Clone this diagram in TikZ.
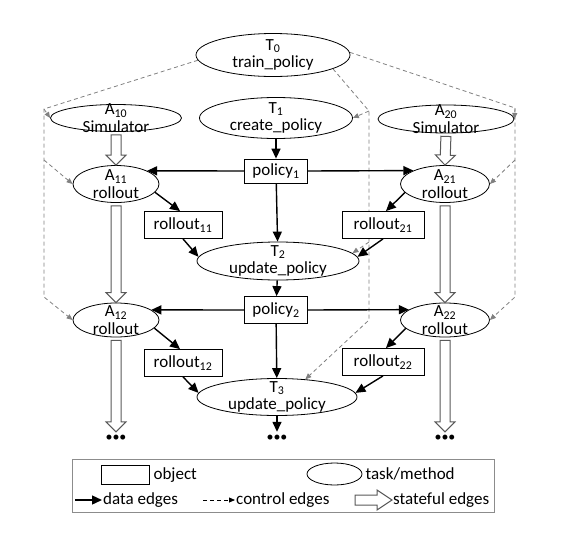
\documentclass[tikz,border=0pt]{standalone}
\usepackage{fontspec}
\setmainfont{Carlito}
\usetikzlibrary{shapes.geometric,arrows.meta,calc}
\pgfdeclarelayer{bg}
\pgfsetlayers{bg,main}

\begin{document}
\begin{tikzpicture}[x=1pt,y=-1pt,
    base/.style={font=\fontsize{17}{17.5}\selectfont},
    obj/.style={base, draw, fill=white, line width=0.8pt, minimum width=#1, minimum height=27pt, inner sep=0pt},
    task/.style 2 args={ellipse, draw, fill=white, line width=0.8pt, minimum width=#1, minimum height=#2, inner sep=0pt},
    txt/.style={base, align=center},
    data/.style={line width=1.4pt, -{Triangle[length=10pt,width=9pt]}},
    ctrl/.style={draw=black!50, line width=0.8pt, dash pattern=on 4pt off 3pt, -{Triangle[length=6pt,width=5pt]}},
    stateful/.style={draw=black!65, fill=white, line width=1pt, to path={
        let \p1=(\tikztostart), \p2=(\tikztotarget), \n1={atan2(\y2-\y1,\x2-\x1)} in
        ($(\p1)+(\n1:3pt)+(\n1+90:5pt)$) -- ($(\p2)+(\n1:-#1)+(\n1+90:5pt)$)
        -- ($(\p2)+(\n1:-#1)+(\n1+90:10pt)$) -- (\p2)
        -- ($(\p2)+(\n1:-#1)+(\n1-90:10pt)$) -- ($(\p2)+(\n1:-#1)+(\n1-90:5pt)$)
        -- ($(\p1)+(\n1:3pt)+(\n1-90:5pt)$) -- cycle}},
    stateful/.default=10pt,
    dots/.style={font=\fontsize{14}{14}\selectfont, inner sep=0pt, minimum height=12pt}]
\useasboundingbox (0,0) rectangle (571,536);

% tasks
\node[task={154pt}{43pt}, label={[txt]center:T\textsubscript{0}\\train\_policy}] (T0) at (273,55) {};
\node[task={153pt}{41pt}, label={[txt]center:T\textsubscript{1}\\create\_policy}] (T1) at (276,118) {};
\node[task={162pt}{38pt}, label={[txt]center:T\textsubscript{2}\\update\_policy}] (T2) at (278,261) {};
\node[task={160pt}{37pt}, label={[txt]center:T\textsubscript{3}\\update\_policy}] (T3) at (277,397) {};
\node[task={131pt}{27pt}, label={[txt]center:A\textsubscript{10}\\Simulator}] (A10) at (116,118) {};
\node[task={136pt}{28pt}, label={[txt]center:A\textsubscript{20}\\Simulator}] (A20) at (446,119) {};
\node[task={86pt}{37pt}, label={[txt]center:A\textsubscript{11}\\rollout}] (A11) at (116,184) {};
\node[task={89pt}{37pt}, label={[txt]center:A\textsubscript{21}\\rollout}] (A21) at (445,184) {};
\node[task={86pt}{34pt}, label={[txt]center:A\textsubscript{12}\\rollout}] (A12) at (116,320) {};
\node[task={89pt}{34pt}, label={[txt]center:A\textsubscript{22}\\rollout}] (A22) at (445,320) {};

% objects
\node[obj=63pt, minimum height=24pt] (p1) at (276,171) {policy\textsubscript{1}};
\node[obj=63pt] (p2) at (276,310) {policy\textsubscript{2}};
\node[obj=78pt] (r11) at (183,225) {rollout\textsubscript{11}};
\node[obj=82pt] (r21) at (383,225) {rollout\textsubscript{21}};
\node[obj=78pt] (r12) at (183,363) {rollout\textsubscript{12}};
\node[obj=82pt] (r22) at (383,362) {rollout\textsubscript{22}};

\node[dots] (D1) at (116,438) {\textbullet\textbullet\textbullet};
\node[dots] (D2) at (277,438) {\textbullet\textbullet\textbullet};
\node[dots] (D3) at (445,438) {\textbullet\textbullet\textbullet};

% control edges
\begin{pgfonlayer}{bg}
\coordinate (L1) at (44,109); \coordinate (L2) at (44,160); \coordinate (L3) at (44,297);
\coordinate (M1) at (369,111); \coordinate (M2) at (369,242); \coordinate (M3) at (369,320);
\coordinate (R1) at (515,108); \coordinate (R2) at (515,160); \coordinate (R3) at (515,297);
\draw[ctrl] (T0.184) -- (L1) -- (L3) -- (A12.west);
\draw[ctrl] (L1) -- (A10.west);
\draw[ctrl] (L2) -- (A11.west);
\draw[ctrl] (T0.-13) -- (M1) -- (M3) -- (T3.32);
\draw[ctrl] (M1) -- (T1.east);
\draw[ctrl] (M2) -- (T2.6);
\draw[ctrl] (T0.2) -- (R1) -- (R3) -- (A22.east);
\draw[ctrl] (R1) -- (A20.east);
\draw[ctrl] (R2) -- (A21.east);
\end{pgfonlayer}

% data edges
\draw[data] (T1) -- (p1);
\draw[data] (p1.west) -- (A11.23);
\draw[data] (p1.east) -- (A21.157);
\draw[data] (p1) -- (T2);
\draw[data] (A11.-12) -- (r11.102);
\draw[data] (A21.-168) -- (r21.78);
\draw[data] (r11.south) -- (T2.177);
\draw[data] (r21.south) -- (T2.3);
\draw[data] (T2) -- (p2);
\draw[data] (p2.west) -- (A12.16);
\draw[data] (p2.east) -- (A22.164);
\draw[data] (p2) -- (T3);
\draw[data] (A12.-12) -- (r12.102);
\draw[data] (A22.-168) -- (r22.78);
\draw[data] (r12.south) -- (T3.177);
\draw[data] (r22.south) -- (T3.3);
\draw[data] (T3) -- (D2);

% stateful edges
\draw[stateful] (A10.south) to (A11.north);
\draw[stateful] (A11.south) to (A12.north);
\draw[stateful] (A12.south) to (D1.north);
\draw[stateful] (A20.south) to (A21.north);
\draw[stateful] (A21.south) to (A22.north);
\draw[stateful] (A22.south) to (D3.north);

% legend
\node[draw=black!45, line width=1pt, minimum width=422pt, minimum height=53pt] (legend) at (283,485.5) {};
\node[draw, line width=0.8pt, minimum width=48pt, minimum height=19pt] (lobj) at (125,475) {};
\node[base, anchor=west, inner sep=4pt] (lobjt) at (lobj.east) {object};
\node[ellipse, draw, line width=0.8pt, minimum width=55pt, minimum height=22pt, inner sep=0pt] (ltask) at (334.5,474) {};
\node[base, anchor=west, inner sep=3pt] (ltaskt) at (ltask.east) {task/method};
\coordinate (ld1) at (75,500); \coordinate (ld2) at (102,500);
\draw[data] (ld1) -- (ld2);
\node[base, anchor=west, inner sep=1pt] at (ld2) {data edges};
\coordinate (lc1) at (203,500); \coordinate (lc2) at (235,500);
\draw[ctrl, draw=black] (lc1) -- (lc2);
\node[base, anchor=west, inner sep=1pt] at (lc2) {control edges};
\coordinate (ls1) at (352,500); \coordinate (ls2) at (392,500);
\draw[stateful=15pt] (ls1) to (ls2);
\node[base, anchor=west, inner sep=1pt] at (ls2) {stateful edges};
\end{tikzpicture}
\end{document}
